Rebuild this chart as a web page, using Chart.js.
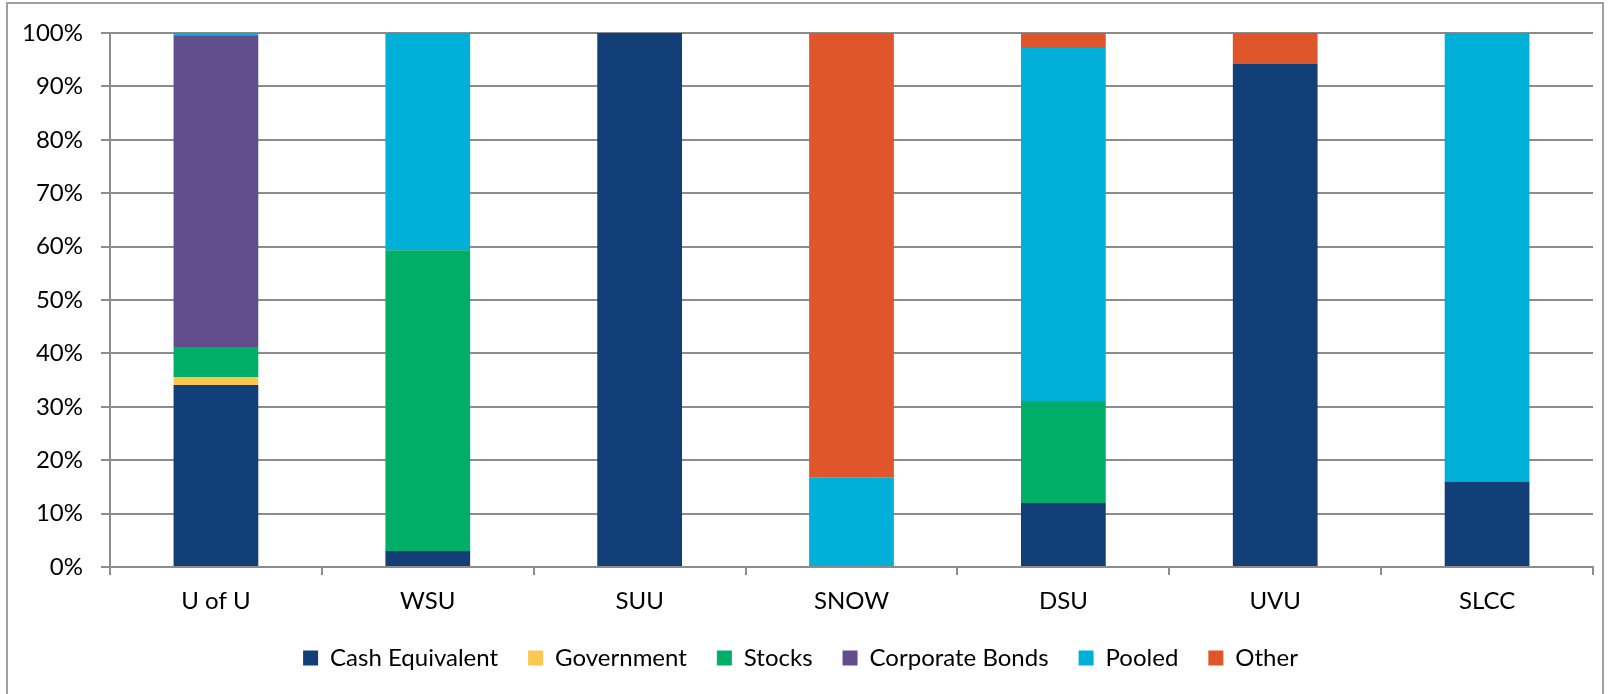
<!DOCTYPE html>
<html>
<head>
<meta charset="utf-8">
<script src="https://cdn.jsdelivr.net/npm/chart.js@4/dist/chart.umd.min.js"></script>
<style>
  html, body { margin: 0; padding: 0; background: #fff; overflow: hidden; }
  #frame {
    position: absolute; left: 6px; top: 2px;
    width: 1598px; height: 694px;
    border: 2px solid #a0a0a0; box-sizing: border-box;
  }
  #frame canvas { display: block; }
</style>
</head>
<body>
<div id="frame"><canvas id="chart"></canvas></div>
<script>
// categories and series (percent of total)
var institutions = ['U of U', 'WSU', 'SUU', 'SNOW', 'DSU', 'UVU', 'SLCC'];
var cashEquivalent = [34.1, 3.0, 100, 0, 12.0, 94.2, 16.0];
var government = [1.5, 0, 0, 0, 0, 0, 0];
var stocks = [5.6, 56.3, 0, 0, 19.1, 0, 0];
var corporateBonds = [58.4, 0, 0, 0, 0, 0, 0];
var pooled = [0.4, 40.7, 0, 16.8, 66.1, 0, 84.0];
var other = [0, 0, 0, 83.2, 2.8, 5.8, 0];
var yTicks = [0, 10, 20, 30, 40, 50, 60, 70, 80, 90, 100];

var font = { family: 'Lato, "Open Sans", sans-serif', size: 24 };
var gridColor = '#8c8c8c';

function series(label, data, color) {
  return {
    label: label,
    data: data,
    backgroundColor: color,
    borderWidth: 0,
    barPercentage: 0.4,
    categoryPercentage: 1.0
  };
}

new Chart(document.getElementById('chart'), {
  type: 'bar',
  data: {
    labels: institutions,
    datasets: [
      series('Cash Equivalent', cashEquivalent, '#133f78'),
      series('Government', government, '#f8c851'),
      series('Stocks', stocks, '#00ae68'),
      series('Corporate Bonds', corporateBonds, '#634e8d'),
      series('Pooled', pooled, '#00b0d8'),
      series('Other', other, '#e0562b')
    ]
  },
  options: {
    responsive: true,
    maintainAspectRatio: false,
    animation: false,
    layout: { padding: { top: 29, right: 9, left: 0, bottom: 14 } },
    plugins: {
      legend: {
        position: 'bottom',
        labels: {
          color: '#000',
          font: font,
          boxWidth: 15,
          boxHeight: 15,
          padding: 30
        }
      },
      tooltip: { enabled: false }
    },
    scales: {
      x: {
        stacked: true,
        afterFit: function (axis) { axis.height = 49; },
        ticks: { color: '#000', font: font, padding: 12 },
        grid: {
          offset: true,
          drawOnChartArea: false,
          color: gridColor,
          lineWidth: 2,
          tickLength: 8
        },
        border: { color: gridColor, width: 2 }
      },
      y: {
        stacked: true,
        min: 0,
        max: 100,
        afterBuildTicks: function (axis) {
          axis.ticks = yTicks.map(function (v) { return { value: v }; });
        },
        afterFit: function (axis) {
          axis.width = 102;
          // let layout padding alone decide the plot top
          axis.paddingTop = 0;
          axis.paddingBottom = 0;
        },
        ticks: {
          color: '#000',
          font: font,
          padding: 18,
          callback: function (v) { return v + '%'; }
        },
        grid: { color: gridColor, lineWidth: 2, tickLength: 9 },
        border: { color: gridColor, width: 2 }
      }
    }
  }
});
</script>
</body>
</html>
